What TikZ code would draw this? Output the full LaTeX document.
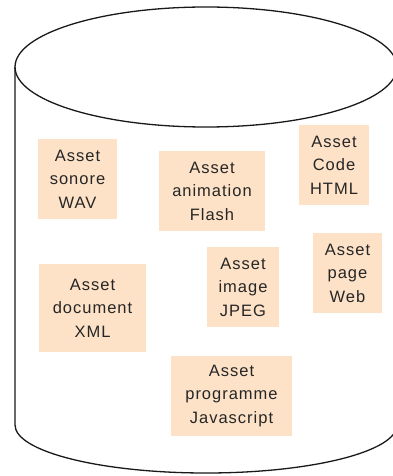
\documentclass[tikz,border=0pt]{standalone}
\usepackage{fontspec}
\setmainfont{Liberation Sans}[LetterSpace=6]
\definecolor{peach}{RGB}{253,226,199}
\tikzset{
  asset/.style={fill=peach, draw=none, inner sep=0pt, align=center,
    font=\fontsize{16.5}{23.5}\selectfont, text=black!85},
  outline/.style={draw=black!90, line width=1.3pt}
}
\begin{document}
\begin{tikzpicture}[x=1pt,y=-1pt]
\useasboundingbox (0,0) rectangle (393,476);
\begin{scope}
\clip (0,0) rectangle (393,476);
\draw[outline] (206,67) ellipse [x radius=191, y radius=60];
\draw[outline] (15,67) -- (15,425) arc [start angle=180, end angle=360, x radius=191, y radius=-48] -- (397,67);
\end{scope}
\node[asset, minimum width=79, minimum height=80] (wav) at (77.5,179) {Asset\\sonore\\WAV};
\node[asset, minimum width=106, minimum height=80] (flash) at (212,191) {Asset\\animation\\Flash};
\node[asset, minimum width=70, minimum height=80] (html) at (334,165) {Asset\\Code\\HTML};
\node[asset, minimum width=69, minimum height=80] (web) at (347.5,273) {Asset\\page\\Web};
\node[asset, minimum width=72, minimum height=80] (jpeg) at (243,287) {Asset\\image\\JPEG};
\node[asset, minimum width=107, minimum height=88] (xml) at (92.5,308) {Asset\\document\\XML};
\node[asset, minimum width=121, minimum height=80] (js) at (231.5,396) {Asset\\programme\\Javascript};
\end{tikzpicture}
\end{document}
